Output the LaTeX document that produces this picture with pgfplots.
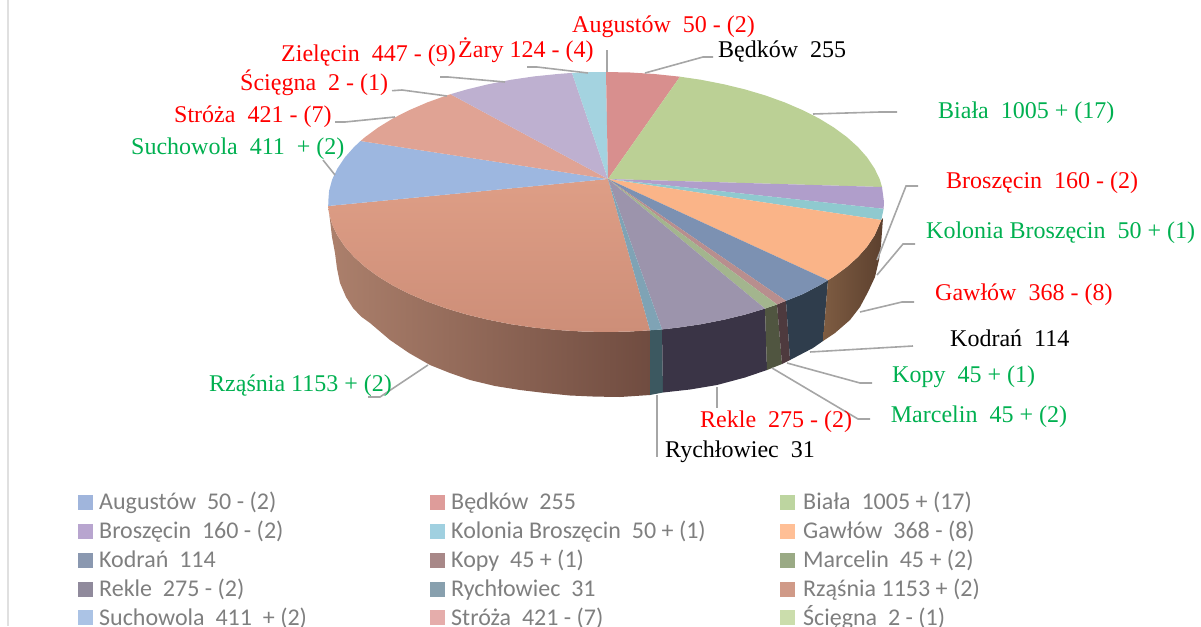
\documentclass[border=0pt]{standalone}
\usepackage{fontspec}
\setmainfont{Liberation Serif}
\newfontfamily\legfont{Carlito}
\usepackage{pgfplots}
\pgfplotsset{compat=1.18}

\definecolor{leadergray}{HTML}{A6A6A6}
\definecolor{labgreen}{HTML}{00B050}
\definecolor{leggray}{HTML}{7F7F7F}
% legend swatches
\definecolor{sAug}{HTML}{A0B5DC}
\definecolor{sBed}{HTML}{DE9C9A}
\definecolor{sBia}{HTML}{BDD5A0}
\definecolor{sBro}{HTML}{B8A5CF}
\definecolor{sKol}{HTML}{A0D0E0}
\definecolor{sGaw}{HTML}{FFBF96}
\definecolor{sKod}{HTML}{8A98B0}
\definecolor{sKop}{HTML}{A88888}
\definecolor{sMar}{HTML}{9AAA85}
\definecolor{sRek}{HTML}{908A9C}
\definecolor{sRyc}{HTML}{88A0AE}
\definecolor{sRza}{HTML}{D09A88}
\definecolor{sSuc}{HTML}{ABC3E5}
\definecolor{sStr}{HTML}{E5ADAB}
\definecolor{sSci}{HTML}{CBDDAC}

\begin{document}
\begin{tikzpicture}[
    lab/.style={anchor=base west, inner sep=0pt, font=\fontsize{24}{28}\selectfont},
    leg/.style={anchor=base west, inner sep=0pt, text=leggray, font=\legfont\fontsize{24}{28}\selectfont},
  ]
\begin{axis}[
    hide axis, scale only axis, at={(0,0)},
    width=1201pt, height=626pt,
    xmin=0, xmax=1201, ymin=0, ymax=626,
    y dir=reverse,
    leader/.style={leadergray, line width=1.6pt},
    swatch/.style={only marks, mark=square*, mark size=7pt, #1, mark options={solid, draw=#1, fill=#1, line width=0pt}},
  ]
% faint frame line on the left
\addplot[color=black!12, line width=2pt] coordinates {(7.5,0)(7.5,626)};

% side wall
\addplot[draw=none, left color={rgb,255:red,172;green,128;blue,108}, right color={rgb,255:red,112;green,76;blue,64}]
  coordinates {(650,330.3)(630.2,331.5)(606,332)(581.8,331.5)(557.7,330)(534,327.6)(510.9,324.2)(488.5,319.8)(467,314.6)(446.5,308.5)(427.3,301.6)(409.4,293.9)(393,285.6)(378.3,276.6)(365.2,267)(354,256.9)(344.8,246.5)(337.5,235.6)(332.2,224.6)(329.1,213.3)(328.2,206)
  (330,220)(332,237)(335,253)(337,268.5)(340,283)(346,297)(353,308)(361,316.5)(370,323)(380,331.5)(390,340)(409,353)(430,365)(450,373)(470,380)(495,386)(520,390)(545,393)(570,395.5)(595,396.6)(620,397)(650,395)} -- cycle;
\addplot[draw=none, fill={rgb,255:red,60;green,88;blue,96}] coordinates {(662,329.4)(650,330.3)(650,395)(663,392.5)} -- cycle;
\addplot[draw=none, fill={rgb,255:red,58;green,52;blue,70}] coordinates {(765,308.6)(745,314.6)(723.5,319.8)(701.1,324.2)(678,327.6)(662,329.4)(663,392.5)(690,389.5)(717,385)(745,377.5)(767,370)} -- cycle;
\addplot[draw=none, fill={rgb,255:red,80;green,85;blue,64}] coordinates {(777,304.5)(765,308.6)(767,370)(782,364)} -- cycle;
\addplot[draw=none, fill={rgb,255:red,78;green,58;blue,62}] coordinates {(786,300.8)(777,304.5)(782,364)(790,360)} -- cycle;
\addplot[draw=none, fill={rgb,255:red,47;green,61;blue,76}] coordinates {(828,280.2)(819,285.6)(803,294)(786,300.8)(790,360)(813,348)(823,341)} -- cycle;
\addplot[draw=none, left color={rgb,255:red,126;green,92;blue,66}, right color={rgb,255:red,92;green,64;blue,46}]
  coordinates {(883,218)(881.3,220)(874.5,235.6)(867.2,246.5)(858,256.9)(846.8,267)(833.7,276.6)(828,280.2)(823,341)(835,333)(850,320)(860,307)(868,292)(875,277)(879,260)(881,245)} -- cycle;

% top face
\addplot[draw=none, top color={rgb,255:red,222;green,158;blue,134}, bottom color={rgb,255:red,205;green,142;blue,120}]
  coordinates {(608,179)(650,330.3)(630.2,331.5)(606,332)(581.8,331.5)(557.7,330)(534,327.6)(510.9,324.2)(488.5,319.8)(467,314.6)(446.5,308.5)(427.3,301.6)(409.4,293.9)(393,285.6)(378.3,276.6)(365.2,267)(354,256.9)(344.8,246.5)(337.5,235.6)(332.2,224.6)(329.1,213.3)(328.2,206)} -- cycle;
\addplot[draw=none, fill={rgb,255:red,157;green,183;blue,224}] coordinates {(608,179)(328.2,206)(328.4,200)(329.1,190.7)(332.2,179.4)(337.5,168.4)(344.8,157.5)(354,147.1)(360.5,141)} -- cycle;
\addplot[draw=none, fill={rgb,255:red,224;green,163;blue,148}] coordinates {(608,179)(360.5,141)(365.2,137)(378.3,127.4)(393,118.4)(409.4,110.1)(427.3,102.4)(446.5,95.5)(450.5,94.2)} -- cycle;
\addplot[draw=none, fill={rgb,255:red,190;green,176;blue,208}] coordinates {(608,179)(450.5,94.2)(467,89.4)(488.5,84.2)(510.9,79.8)(534,76.4)(557.7,74)(572,72.9)} -- cycle;
\addplot[draw=none, fill={rgb,255:red,164;green,211;blue,224}] coordinates {(608,179)(572,72.9)(590,72.2)(606,72)} -- cycle;
\addplot[draw=none, fill={rgb,255:red,216;green,143;blue,142}] coordinates {(608,179)(606,72)(630.2,72.5)(654.3,74)(680,76.7)} -- cycle;
\addplot[draw=none, fill={rgb,255:red,187;green,208;blue,149}] coordinates {(608,179)(680,76.7)(701.1,79.8)(723.5,84.2)(745,89.4)(765.5,95.5)(784.7,102.4)(802.6,110.1)(819,118.4)(833.7,127.4)(846.8,137)(858,147.1)(867.2,157.5)(874.5,168.4)(879.8,179.4)(882,187)} -- cycle;
\addplot[draw=none, fill={rgb,255:red,176;green,158;blue,203}] coordinates {(608,179)(882,187)(884,202)(883.6,208.8)} -- cycle;
\addplot[draw=none, fill={rgb,255:red,143;green,201;blue,207}] coordinates {(608,179)(883.6,208.8)(881.3,220)} -- cycle;
\addplot[draw=none, fill={rgb,255:red,250;green,180;blue,136}] coordinates {(608,179)(881.3,220)(874.5,235.6)(867.2,246.5)(858,256.9)(846.8,267)(833.7,276.6)(828,280.2)} -- cycle;
\addplot[draw=none, fill={rgb,255:red,124;green,145;blue,178}] coordinates {(608,179)(828,280.2)(819,285.6)(803,294)(786,300.8)} -- cycle;
\addplot[draw=none, fill={rgb,255:red,184;green,142;blue,142}] coordinates {(608,179)(786,300.8)(777,304.5)} -- cycle;
\addplot[draw=none, fill={rgb,255:red,163;green,181;blue,142}] coordinates {(608,179)(777,304.5)(765,308.6)} -- cycle;
\addplot[draw=none, fill={rgb,255:red,156;green,148;blue,172}] coordinates {(608,179)(765,308.6)(745,314.6)(723.5,319.8)(701.1,324.2)(678,327.6)(662,329.4)} -- cycle;
\addplot[draw=none, fill={rgb,255:red,127;green,163;blue,181}] coordinates {(608,179)(662,329.4)(650,330.3)} -- cycle;

% leader lines
\addplot[leader] coordinates {(607,72)(607,50)};
\addplot[leader] coordinates {(645,73)(703,57)(713,57)};
\addplot[leader] coordinates {(588,73)(537,67)(527,67)};
\addplot[leader] coordinates {(505,82)(448,77)(440,77)};
\addplot[leader] coordinates {(447,96)(402,90)(392,90.7)};
\addplot[leader] coordinates {(395,117)(345,122)(335,122)};
\addplot[leader] coordinates {(335,175)(323,160)};
\addplot[leader] coordinates {(813,114)(880,112)(897,112)};
\addplot[leader] coordinates {(877,260)(906,186)(918,186)};
\addplot[leader] coordinates {(877,275)(903,244)(915,244)};
\addplot[leader] coordinates {(860,312)(902,302)(914,302)};
\addplot[leader] coordinates {(810,352)(913,346)};
\addplot[leader] coordinates {(787,363)(860,383)(872,383)};
\addplot[leader] coordinates {(772,368)(858,419)(870,419)};
\addplot[leader] coordinates {(717,387)(717,408)};
\addplot[leader] coordinates {(657,395)(657,457)};
\addplot[leader] coordinates {(428,365)(380,397)(368,397)};

% data labels
\node[lab, red] at (572,33) {Augustów~~50 - (2)};
\node[lab] at (718,57) {Będków~~255};
\node[lab, red] at (458,57) {Żary 124 - (4)};
\node[lab, red] at (281,62) {Zielęcin~~447 - (9)};
\node[lab, red] at (240,90) {Ścięgna~~2 - (1)};
\node[lab, red] at (174,122) {Stróża~~421 - (7)};
\node[lab, labgreen] at (131,154) {Suchowola~~411~~+ (2)};
\node[lab, labgreen] at (938,118) {Biała~~1005 + (17)};
\node[lab, red] at (946,188) {Broszęcin~~160 - (2)};
\node[lab, labgreen] at (926,238) {Kolonia Broszęcin~~50 + (1)};
\node[lab, red] at (935,300.7) {Gawłów~~368 - (8)};
\node[lab] at (950,346) {Kodrań~~114};
\node[lab, labgreen] at (892,382) {Kopy~~45 + (1)};
\node[lab, labgreen] at (890.7,422) {Marcelin~~45 + (2)};
\node[lab, red] at (700,427) {Rekle~~275 - (2)};
\node[lab] at (665,457.7) {Rychłowiec~~31};
\node[lab, labgreen] at (209,391) {Rząśnia 1153 + (2)};

% legend
\addplot[swatch=sAug] coordinates {(85,502)};
\addplot[swatch=sBed] coordinates {(437,502)};
\addplot[swatch=sBia] coordinates {(787,502)};
\addplot[swatch=sBro] coordinates {(85,531)};
\addplot[swatch=sKol] coordinates {(437,531)};
\addplot[swatch=sGaw] coordinates {(787,531)};
\addplot[swatch=sKod] coordinates {(85,560)};
\addplot[swatch=sKop] coordinates {(437,560)};
\addplot[swatch=sMar] coordinates {(787,560)};
\addplot[swatch=sRek] coordinates {(85,589)};
\addplot[swatch=sRyc] coordinates {(437,589)};
\addplot[swatch=sRza] coordinates {(787,589)};
\addplot[swatch=sSuc] coordinates {(85,617)};
\addplot[swatch=sStr] coordinates {(437,617)};
\addplot[swatch=sSci] coordinates {(787,617)};

\node[leg] at (99,509) {Augustów~~50 - (2)};
\node[leg] at (451,509) {Będków~~255};
\node[leg] at (803,509) {Biała~~1005 + (17)};
\node[leg] at (99,538) {Broszęcin~~160 - (2)};
\node[leg] at (451,538) {Kolonia Broszęcin~~50 + (1)};
\node[leg] at (803,538) {Gawłów~~368 - (8)};
\node[leg] at (99,567) {Kodrań~~114};
\node[leg] at (451,567) {Kopy~~45 + (1)};
\node[leg] at (803,567) {Marcelin~~45 + (2)};
\node[leg] at (99,596) {Rekle~~275 - (2)};
\node[leg] at (451,596) {Rychłowiec~~31};
\node[leg] at (803,596) {Rząśnia 1153 + (2)};
\node[leg] at (99,625) {Suchowola~~411~~+ (2)};
\node[leg] at (451,625) {Stróża~~421 - (7)};
\node[leg] at (803,625) {Ścięgna~~2 - (1)};
\end{axis}
\pgfresetboundingbox
\path (current axis.south west) rectangle (current axis.north east);
\end{tikzpicture}
\end{document}
